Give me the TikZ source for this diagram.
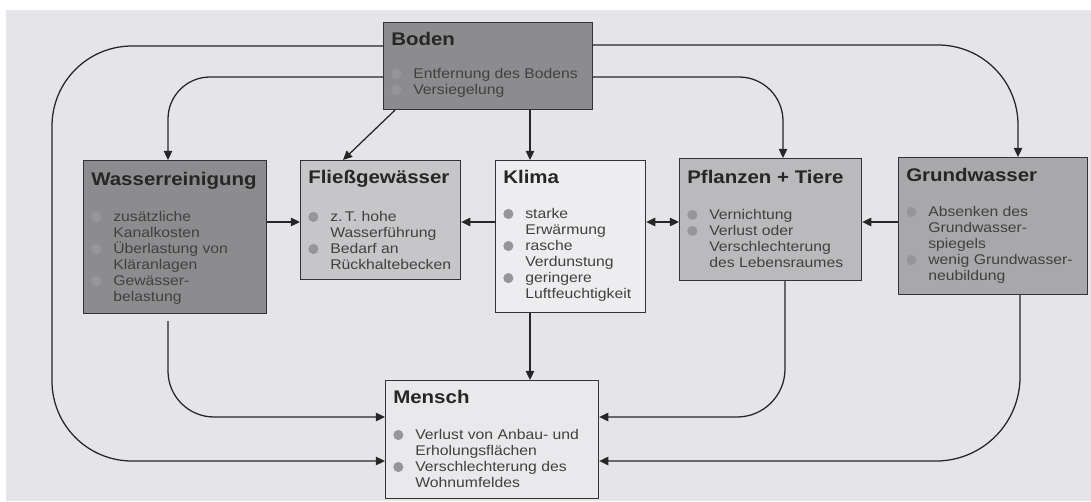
\documentclass[tikz,border=0pt]{standalone}
\usepackage{fontspec}
\setmainfont[FakeStretch=1.12]{Liberation Sans}
\usetikzlibrary{arrows.meta,calc,positioning}

\definecolor{paper}{RGB}{229,229,233}
\definecolor{dotgray}{RGB}{150,150,152}
\definecolor{darkbox}{RGB}{140,140,143}
\definecolor{midbox}{RGB}{168,168,171}
\definecolor{greybox}{RGB}{186,186,189}
\definecolor{lightbox}{RGB}{198,198,201}
\definecolor{paleboxa}{RGB}{237,237,239}
\definecolor{paleboxb}{RGB}{233,233,235}

\newcommand{\bul}{\makebox[0.55cm][l]{\tikz[baseline=-3.2pt]\fill[dotgray] (3.6pt,0pt) circle [radius=3.6pt];}}
\newcommand{\ind}{\hspace*{0.55cm}}

\tikzset{
  box/.style={draw=black!80, line width=0.8pt, anchor=north west, inner sep=0pt},
  boxtitle/.style={anchor=base west, inner sep=0pt, font=\fontsize{13}{15}\selectfont\bfseries, text=black!85},
  boxtext/.style={anchor=north west, inner sep=0pt, align=left, font=\fontsize{10}{11.4}\selectfont, text=black!75},
  link/.style={line width=0.9pt, draw=black!85, -{Triangle[length=6.5pt,width=6pt]}},
}

\begin{document}
\begin{tikzpicture}[x=0.025cm, y=-0.025cm]

    % paper
    \useasboundingbox (0,0) rectangle (1091,501);
    \fill[white] (0,0) rectangle (1091,501);
    \fill[paper] (6,10) rectangle (1091,501);

    % -------------------------------------------------------------
    % Boxes
    % -------------------------------------------------------------
    \node[box, fill=darkbox, minimum width=5.225cm, minimum height=2.175cm] (boden) at (383,22) {};
    \node[box, fill=darkbox, minimum width=4.575cm, minimum height=3.825cm] (wasser) at (83,160) {};
    \node[box, fill=lightbox, minimum width=4cm, minimum height=2.975cm] (fluss) at (300,160) {};
    \node[box, fill=paleboxa, minimum width=3.75cm, minimum height=3.8cm] (klima) at (495,160) {};
    \node[box, fill=greybox, minimum width=4.55cm, minimum height=3.05cm] (pflanzen) at (679,158) {};
    \node[box, fill=midbox, minimum width=4.725cm, minimum height=3.425cm] (grund) at (898,157) {};
    \node[box, fill=paleboxb, minimum width=5.325cm, minimum height=2.95cm] (mensch) at (385,380) {};

    % -------------------------------------------------------------
    % Titles and bullet lists
    % -------------------------------------------------------------
    \node[boxtitle] (bodenT) at ($(boden.north west)+(8,23)$) {Boden};
    \node[boxtext] (bodenL) at ($(boden.north west)+(8,46)$)
        {\bul Entfernung des Bodens\\\bul Versiegelung};

    \node[boxtitle] (wasserT) at ($(wasser.north west)+(8,25)$) {Wasserreinigung};
    \node[boxtext] (wasserL) at ($(wasser.north west)+(8,51)$)
        {\bul zusätzliche\\\ind Kanalkosten\\\bul Überlastung von\\\ind Kläranlagen\\\bul Gewässer-\\\ind belastung};

    \node[boxtitle] (flussT) at ($(fluss.north west)+(8,23)$) {Fließgewässer};
    \node[boxtext] (flussL) at ($(fluss.north west)+(8,51)$)
        {\bul z.\,T. hohe\\\ind Wasserführung\\\bul Bedarf an\\\ind Rückhaltebecken};

    \node[boxtitle] (klimaT) at ($(klima.north west)+(8,23)$) {Klima};
    \node[boxtext] (klimaL) at ($(klima.north west)+(8,48)$)
        {\bul starke\\\ind Erwärmung\\\bul rasche\\\ind Verdunstung\\\bul geringere\\\ind Luftfeuchtigkeit};

    \node[boxtitle] (pflanzenT) at ($(pflanzen.north west)+(8,25)$) {Pflanzen + Tiere};
    \node[boxtext] (pflanzenL) at ($(pflanzen.north west)+(8,51)$)
        {\bul Vernichtung\\\bul Verlust oder\\\ind Verschlechterung\\\ind des Lebensraumes};

    \node[boxtitle] (grundT) at ($(grund.north west)+(8,24)$) {Grundwasser};
    \node[boxtext] (grundL) at ($(grund.north west)+(8,49)$)
        {\bul Absenken des\\\ind Grundwasser-\\\ind spiegels\\\bul wenig Grundwasser-\\\ind neubildung};

    \node[boxtitle] (menschT) at ($(mensch.north west)+(8,23)$) {Mensch};
    \node[boxtext] (menschL) at ($(mensch.north west)+(8,49)$)
        {\bul Verlust von Anbau- und\\\ind Erholungsflächen\\\bul Verschlechterung des\\\ind Wohnumfeldes};

    % -------------------------------------------------------------
    % Helper coordinates
    % -------------------------------------------------------------
    \coordinate (row) at (0,222);
    \coordinate (lft) at (52,0);
    \coordinate (kTop) at ($(klima.north west)+(35,0)$);
    \coordinate (mw1) at ($(mensch.north west)+(0,37)$);
    \coordinate (mw2) at ($(mensch.north west)+(0,81)$);
    \coordinate (me1) at ($(mensch.north east)+(0,37)$);
    \coordinate (me2) at ($(mensch.north east)+(0,81)$);

    % -------------------------------------------------------------
    % Connectors from Boden
    % -------------------------------------------------------------
    \draw[link, rounded corners=2cm] ($(boden.north west)+(0,24)$) -| (lft |- mw2) -- (mw2);
    \draw[link, rounded corners=1.05cm] ($(boden.north west)+(0,55)$) -| ($(wasser.north west)+(85,0)$);
    \draw[link] ($(boden.south west)+(12,0)$) -- ($(fluss.north west)+(43,0)$);
    \draw[link] (boden.south -| kTop) -- (kTop);
    \draw[link, rounded corners=1.1cm] ($(boden.north east)+(0,55)$) -| ($(pflanzen.north west)+(104,0)$);
    \draw[link, rounded corners=2cm] ($(boden.north east)+(0,23)$) -| ($(grund.north west)+(120,0)$);

    % -------------------------------------------------------------
    % Middle row
    % -------------------------------------------------------------
    \draw[link] (wasser.east |- row) -- (fluss.west |- row);
    \draw[link] (klima.west |- row) -- (fluss.east |- row);
    \draw[link, {Triangle[length=6.5pt,width=6pt]}-{Triangle[length=6.5pt,width=6pt]}] (klima.east |- row) -- (pflanzen.west |- row);
    \draw[link] (grund.west |- row) -- (pflanzen.east |- row);

    % -------------------------------------------------------------
    % Into Mensch
    % -------------------------------------------------------------
    \draw[link] (klima.south -| kTop) -- (mensch.north -| kTop);
    \draw[link, rounded corners=1.15cm] ($(wasser.south west)+(85,7)$) |- (mw1);
    \draw[link, rounded corners=1.2cm] ($(pflanzen.south west)+(106,0)$) |- (me1);
    \draw[link, rounded corners=2.1cm] ($(grund.south west)+(122,0)$) |- (me2);

\end{tikzpicture}
\end{document}
